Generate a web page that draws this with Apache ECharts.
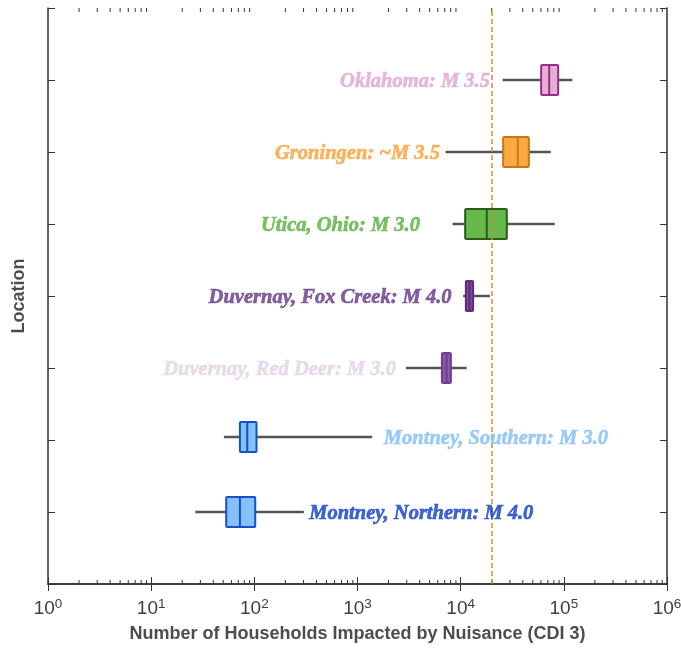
<!DOCTYPE html>
<html>
<head>
<meta charset="utf-8">
<script src="https://cdn.jsdelivr.net/npm/echarts@6/dist/echarts.min.js"></script>
<style>html,body{margin:0;padding:0;background:#fff}#c{width:681px;height:648px}</style>
</head>
<body>
<div id="c"></div>
<script>
// ---- data ----
const locations = ['Montney, Northern: M 4.0','Montney, Southern: M 3.0','Duvernay, Red Deer: M 3.0','Duvernay, Fox Creek: M 4.0','Utica, Ohio: M 3.0','Groningen: ~M 3.5','Oklahoma: M 3.5'];
const rowPos = [1, 2.04, 3, 4, 5, 6, 7];
const whiskerLow = [26.8, 50.7, 2945, 10570, 8340, 7140, 25500];
const q1 = [53.4, 72.5, 6580, 11230, 11060, 25800, 60300];
const median = [72.5, 85.4, 7300, 12200, 17900, 35800, 72100];
const q3 = [102, 105, 8040, 13200, 28000, 45800, 88100];
const whiskerHigh = [302, 1388, 11400, 19200, 81800, 74800, 121000];
const labelAnchor = [340, 1800, 2355, 8160, 4025, 6290, 19200];
const labelSide = ['right','right','left','left','left','left','left'];
const threshold = 20000;
const xTitle = 'Number of Households Impacted by Nuisance (CDI 3)';
const yTitle = 'Location';

// ---- styles ----
const fillColors = ['#86c0f9','#86c0f9','#8b5aa6','#7a4b9a','#66b94a','#fca941','#e3b0d6'];
const edgeColors = ['#1450cc','#1450cc','#6e3f8e','#5e2e7d','#285c14','#c47a16','#9c2b8c'];
const textColors = ['#1040c8','#86bff7','#e2d3e6','#673788','#5ab240','#f8a238','#e0a6d1'];

const boxData = locations.map((n,i)=>[rowPos[i], whiskerLow[i], q1[i], median[i], q3[i], whiskerHigh[i], i]);
const minorVals = [];
for (let e=0;e<6;e++) for (let m=2;m<=9;m++) minorVals.push(m*Math.pow(10,e));

const chart = echarts.init(document.getElementById('c'), null, {renderer:'canvas'});
const axisColor = '#333333';
const xAxisBase = {
  type:'log', logBase:10, min:1, max:1e6,
  axisLine:{show:true, lineStyle:{color:axisColor, width:1.5}},
  axisTick:{show:true, inside:true, length:7, lineStyle:{color:axisColor, width:1}},
  splitLine:{show:false}, minorTick:{show:false}
};
chart.setOption({
  animation:false,
  grid:{left:48, right:14, top:8, bottom:64, containLabel:false, outerBoundsMode:'none'},
  xAxis:[
    Object.assign({}, xAxisBase, {
      position:'bottom',
      name:xTitle, nameLocation:'middle', nameGap:41,
      nameTextStyle:{fontFamily:'Liberation Sans', fontWeight:'bold', fontSize:18, color:'#4d4d4d'},
      axisLabel:{show:true, margin:13, fontFamily:'Liberation Sans', fontSize:19, color:'#404040',
        formatter:(v)=>'10{s|'+Math.round(Math.log10(v))+'}',
        rich:{s:{fontFamily:'Liberation Sans', fontSize:13.5, color:'#404040', padding:[0,0,10,0]}}}
    }),
    Object.assign({}, xAxisBase, {position:'top', axisLabel:{show:false}})
  ],
  yAxis:[
    {type:'value', min:0, max:8, interval:1, position:'left',
     name:yTitle, nameLocation:'middle', nameGap:20,
     nameTextStyle:{fontFamily:'Liberation Sans', fontWeight:'bold', fontSize:18, color:'#4d4d4d'},
     axisLine:{show:true, lineStyle:{color:axisColor, width:1.5}},
     axisTick:{show:true, inside:true, length:7, lineStyle:{color:axisColor, width:1}},
     axisLabel:{show:false}, splitLine:{show:false}},
    {type:'value', min:0, max:8, interval:1, position:'right',
     axisLine:{show:true, lineStyle:{color:axisColor, width:1.5}},
     axisTick:{show:true, inside:true, length:7, lineStyle:{color:axisColor, width:1}},
     axisLabel:{show:false}, splitLine:{show:false}}
  ],
  series:[
    {
      type:'custom', xAxisIndex:0, yAxisIndex:0, silent:true,
      data: minorVals.map(v=>[v]),
      encode:{x:0},
      renderItem:(params, api)=>{
        const v = api.value(0);
        const b = api.coord([v,0]), t = api.coord([v,8]);
        return {type:'group', children:[
          {type:'line', shape:{x1:b[0],y1:b[1],x2:b[0],y2:b[1]-4}, style:{stroke:axisColor, lineWidth:1}},
          {type:'line', shape:{x1:t[0],y1:t[1],x2:t[0],y2:t[1]+4}, style:{stroke:axisColor, lineWidth:1}}
        ]};
      }
    },
    {
      type:'custom', xAxisIndex:0, yAxisIndex:0, silent:true,
      data: boxData,
      encode:{x:[1,2,3,4,5], y:0},
      renderItem:(params, api)=>{
        const y = api.value(0);
        const idx = api.value(6);
        const p = (k)=>api.coord([api.value(k), y]);
        const lo=p(1), a=p(2), m=p(3), b=p(4), hi=p(5);
        const h = 30;
        return {type:'group', children:[
          {type:'line', shape:{x1:lo[0],y1:lo[1],x2:hi[0],y2:hi[1]}, style:{stroke:'#555555', lineWidth:2.5}},
          {type:'rect', shape:{x:a[0], y:a[1]-h/2, width:b[0]-a[0], height:h, r:1},
           style:{fill:fillColors[idx], stroke:edgeColors[idx], lineWidth:2}},
          {type:'line', shape:{x1:m[0],y1:m[1]-h/2,x2:m[0],y2:m[1]+h/2}, style:{stroke:edgeColors[idx], lineWidth:2}}
        ]};
      },
      markLine:{
        silent:true, symbol:['none','none'], label:{show:false},
        lineStyle:{color:'#c98d3f', type:[5,3], width:1.5},
        data:[{xAxis:threshold}]
      }
    },
    {
      type:'scatter', xAxisIndex:0, yAxisIndex:0, silent:true,
      symbolSize:0,
      data: locations.map((n,i)=>({
        name:n, value:[labelAnchor[i], rowPos[i]],
        label:{show:true, position:labelSide[i], distance:0, offset:[0,1.5], formatter:n,
          fontFamily:'Liberation Serif', fontStyle:'italic', fontWeight:'bold', fontSize:20.5,
          color:textColors[i], textBorderColor:textColors[i], textBorderWidth:0.6}
      })),
      z:5
    }
  ]
});
</script>
</body>
</html>
